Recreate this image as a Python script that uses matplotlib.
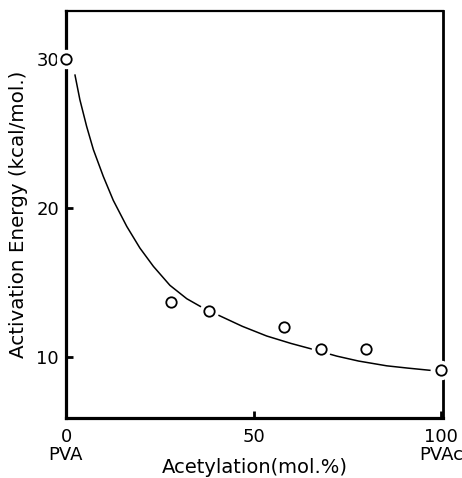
import matplotlib
matplotlib.use("Agg")
import matplotlib.pyplot as plt

# measured data points
acetylation = [0, 28, 38, 58, 68, 80, 100]
energy = [30.0, 13.7, 13.1, 12.0, 10.5, 10.5, 9.1]

# fitted curve
curve_x = [2.4, 3.7, 5.5, 7.3, 9.95, 12.6, 16.2, 19.7, 23.3, 27.7, 32.2, 35.7, 40.6, 47.0, 53.5, 60.0, 65.9, 72.2, 78.0, 85.5, 91.0, 97.0]
curve_y = [28.9, 27.25, 25.46, 23.9, 22.1, 20.5, 18.75, 17.3, 16.07, 14.8, 13.9, 13.4, 12.8, 12.05, 11.4, 10.9, 10.5, 10.05, 9.72, 9.4, 9.25, 9.1]

xticks = [0, 50, 100]
xticklabels = ["0\nPVA", "50", "100\nPVAc"]
yticks = [10, 20, 30]
yticklabels = ["10", "20", "30"]

fig = plt.figure(figsize=(4.62, 4.78), dpi=100)
ax = fig.add_axes([66/462, 1-418/478, (443-66)/462, (418-11)/478])

ax.plot(curve_x, curve_y, color="black", lw=1.1, zorder=2,
        solid_joinstyle="round")
# white halo around the circles (gaps in curve and frame)
ax.plot(acetylation, energy, "o", mfc="white", mec="none", ms=14,
        zorder=4, clip_on=False)
ax.plot(acetylation, energy, "o", mfc="white", mec="black", mew=1.3, ms=7.5,
        zorder=5, clip_on=False)

ax.set_xlim(0, 100.5)
ax.set_ylim(5.9, 33.2)

ax.set_xticks(xticks)
ax.set_xticklabels(xticklabels, fontsize=13, linespacing=1.0)
ax.set_yticks(yticks)
ax.set_yticklabels(yticklabels, fontsize=13)
ax.tick_params(direction="in", length=5, width=2, pad=5)
ax.tick_params(axis="x", pad=7)

for s in ["left", "bottom"]:
    ax.spines[s].set_linewidth(2.3)
ax.spines["right"].set_linewidth(2.0)
ax.spines["top"].set_linewidth(1.6)

ax.set_xlabel("Acetylation(mol.%)", fontsize=14, labelpad=-4)
ax.set_ylabel("Activation Energy (kcal/mol.)", fontsize=14.3, labelpad=6)

fig.savefig("out.png", dpi=100)
